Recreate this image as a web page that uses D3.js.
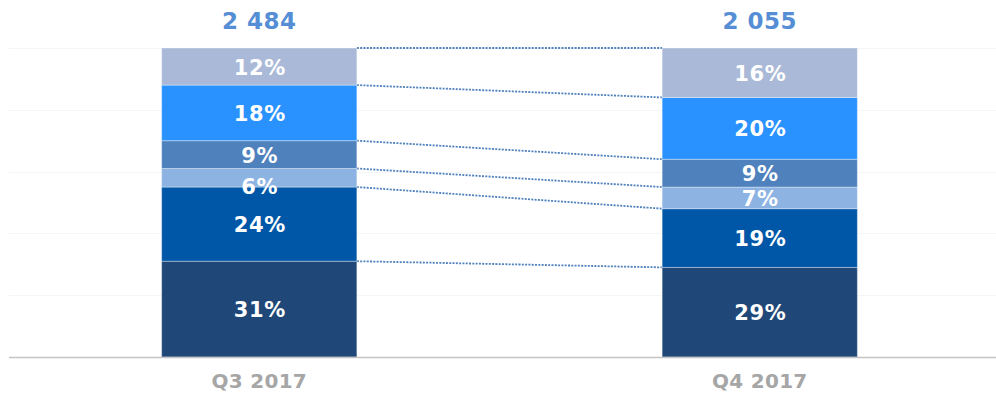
<!DOCTYPE html>
<html lang="en">
  <head>
    <meta charset="utf-8">
    <title>Q3 vs Q4 2017 split</title>
    <style>
      body {margin: 0; background: #fff;}
      svg {display: block;}
      text {font-family: Verdana, "DejaVu Sans", sans-serif; font-weight: bold; text-anchor: middle;}
      .grid line {stroke: #f3f5f6; stroke-width: 1; shape-rendering: crispEdges;}
      .total {fill: #558ed5; font-size: 23px; letter-spacing: 0.5px;}
      .cat {fill: #a6a6a6; font-size: 20px; letter-spacing: 0.3px;}
      .pct {fill: #fff; font-size: 21px; letter-spacing: 0.6px;}
      .link {stroke: #4f81bd; stroke-width: 1.8; stroke-dasharray: 2 1.3; fill: none;}
    </style>
    <script src="https://d3js.org/d3.v7.min.js"></script>
  </head>
  <body>
    <script>
      // categories and totals
      var quarters = ["Q3 2017", "Q4 2017"];
      var totals = ["2 484", "2 055"];

      // segment shares, bottom to top
      var q3Shares = [31, 24, 6, 9, 18, 12];
      var q4Shares = [29, 19, 7, 9, 20, 16];
      var segColors = ["#1f4777", "#0057a7", "#8db3e2", "#4f81bd", "#2a92ff", "#a9b9d7"];

      var gridTicks = [0, 20, 40, 60, 80, 100];

      var width = 996, height = 393;
      var svg = d3.select("body").append("svg")
        .attr("width", width)
        .attr("height", height);

      var x = d3.scaleBand()
        .domain(quarters)
        .range([9, 1010])
        .paddingInner(0.61)
        .paddingOuter(0.305);

      var y = d3.scaleLinear()
        .domain([0, 100])
        .range([357, 48]);

      // light gridlines
      svg.append("g").attr("class", "grid")
        .selectAll("line")
        .data(gridTicks.slice(1))
        .enter().append("line")
        .attr("x1", 9)
        .attr("x2", width)
        .attr("y1", function(d) { return Math.round(y(d)) + 0.5; })
        .attr("y2", function(d) { return Math.round(y(d)) + 0.5; });

      // stack the shares per quarter
      var series = [q3Shares, q4Shares].map(function(shares, qi) {
        var acc = 0;
        return shares.map(function(v, i) {
          var seg = {q: quarters[qi], v: v, i: i, y0: acc, y1: acc + v};
          acc += v;
          return seg;
        });
      });

      // dotted connectors between matching boundaries
      var bounds = series[0].map(function(s, i) {
        return {a: s.y1, b: series[1][i].y1};
      });
      svg.append("g")
        .selectAll("line")
        .data(bounds)
        .enter().append("line")
        .attr("class", "link")
        .attr("x1", x(quarters[0]) + x.bandwidth())
        .attr("x2", x(quarters[1]))
        .attr("y1", function(d) { return y(d.a); })
        .attr("y2", function(d) { return y(d.b); });

      var bars = svg.selectAll("g.bar")
        .data(series)
        .enter().append("g")
        .attr("class", "bar");

      bars.selectAll("rect")
        .data(function(d) { return d; })
        .enter().append("rect")
        .attr("x", function(d) { return x(d.q); })
        .attr("width", x.bandwidth())
        .attr("y", function(d) { return y(d.y1); })
        .attr("height", function(d) { return y(d.y0) - y(d.y1); })
        .attr("fill", function(d) { return segColors[d.i]; })
        .attr("stroke", "rgba(255,255,255,0.35)")
        .attr("stroke-width", 1);

      bars.selectAll("text")
        .data(function(d) { return d; })
        .enter().append("text")
        .attr("class", "pct")
        .attr("x", function(d) { return x(d.q) + x.bandwidth() / 2 + 0.5; })
        .attr("y", function(d) {
          var h = y(d.y0) - y(d.y1);
          // too thin to hold the label: let it hang below
          if (h < 20) return y(d.y0) + 6.5;
          return (y(d.y0) + y(d.y1)) / 2 + 8;
        })
        .text(function(d) { return d.v + "%"; });

      // axis baseline
      svg.append("line")
        .attr("x1", 9).attr("x2", width)
        .attr("y1", 357.5).attr("y2", 357.5)
        .attr("stroke", "#c4c4c4")
        .attr("stroke-width", 1.5);

      // totals above bars
      svg.selectAll("text.total")
        .data(quarters)
        .enter().append("text")
        .attr("class", "total")
        .attr("x", function(d) { return x(d) + x.bandwidth() / 2; })
        .attr("y", 29)
        .text(function(d, i) { return totals[i]; });

      // category labels
      svg.selectAll("text.cat")
        .data(quarters)
        .enter().append("text")
        .attr("class", "cat")
        .attr("x", function(d) { return x(d) + x.bandwidth() / 2; })
        .attr("y", 388)
        .text(function(d) { return d; });
    </script>
  </body>
</html>
